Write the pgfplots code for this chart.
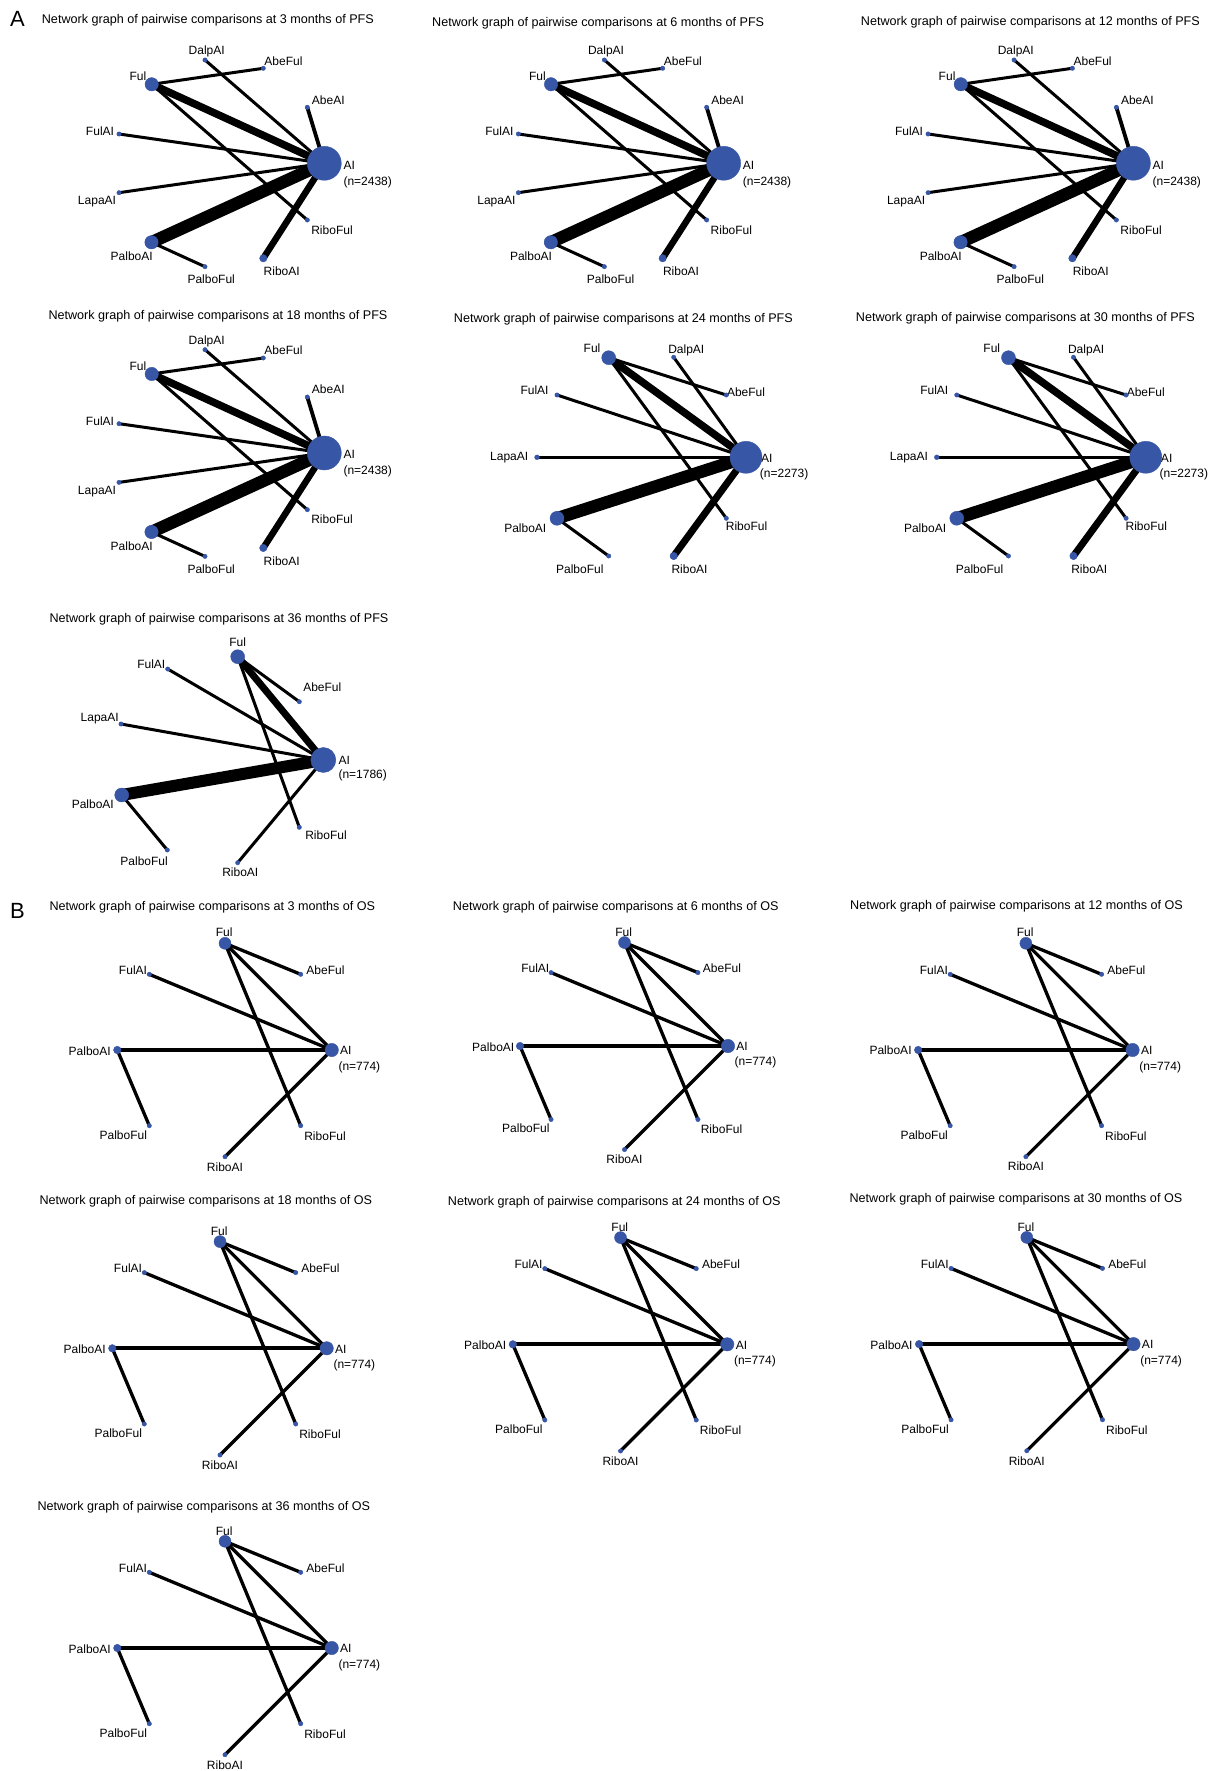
\documentclass[border=0pt]{standalone}
\usepackage{fontspec}
\setmainfont{Liberation Sans}
\usepackage{pgfplots}
\pgfplotsset{compat=1.18}
\definecolor{nodeblue}{RGB}{56,86,166}
\pgfplotsset{
  panel/.style={hide axis, scale only axis, width=1221pt, height=1771pt,
    y dir=reverse, clip=false, at={(0pt,0pt)}, anchor=south west},
}
\tikzset{lab/.style={font=\fontsize{12}{14}\selectfont, inner sep=0pt},
  ttl/.style={font=\fontsize{12.6}{15}\selectfont, inner sep=0pt, anchor=base west},
  big/.style={font=\fontsize{22}{26}\selectfont, inner sep=0pt, anchor=base west}}
% edge: from, to, width
\newcommand\Ed[3]{\addplot[black, line width=#3, line cap=round, no marks, forget plot] coordinates {(#1) (#2)};}
% node: position, radius
\newcommand\Nd[2]{\addplot[only marks, mark=*, mark size=#2, color=nodeblue, mark options={fill=nodeblue, draw=nodeblue}, forget plot] coordinates {(#1)};}
% label
\newcommand\Lb[3][center]{\node[lab, anchor=#1] at (axis cs:#2) {#3};}

% ---------- layout A : PFS 3, 6, 12, 18 months ----------
\newcommand\layoutA{%
 \Ed{151.7,84.3}{263.3,68.3}{3}
 \Ed{151.7,84.3}{324.3,163.3}{7.5}
 \Ed{151.7,84.3}{307.3,220}{3}
 \Ed{205,60}{324.3,163.3}{3}
 \Ed{307.3,107.3}{324.3,163.3}{3.8}
 \Ed{119,134}{324.3,163.3}{3}
 \Ed{119,192.7}{324.3,163.3}{3}
 \Ed{151.5,242.3}{324.3,163.3}{12.5}
 \Ed{151.5,242.3}{205,266.7}{3}
 \Ed{263.3,258.3}{324.3,163.3}{6.5}
 \Nd{151.7,84.3}{6.7}
 \Nd{205,60}{2.2}
 \Nd{263.3,68.3}{2.2}
 \Nd{307.3,107.3}{2.2}
 \Nd{119,134}{2.2}
 \Nd{324.3,163.3}{17}
 \Nd{119,192.7}{2.2}
 \Nd{151.5,242.3}{6.7}
 \Nd{205,266.7}{2.2}
 \Nd{263.3,258.3}{3.7}
 \Nd{307.3,220}{2.2}
 \Lb{138,76.7}{Ful}
 \Lb{206.7,51.7}{DalpAI}
 \Lb{283.5,61}{AbeFul}
 \Lb{328.3,100}{AbeAI}
 \Lb{100,131.7}{FulAI}
 \Lb[west]{343.3,165}{AI}
 \Lb[west]{343.3,182}{(n=2438)}
 \Lb{97,201.7}{LapaAI}
 \Lb{131.7,256.7}{PalboAI}
 \Lb{211.2,279.5}{PalboFul}
 \Lb{281.7,271.7}{RiboAI}
 \Lb{332,230}{RiboFul}
}
% ---------- layout B : PFS 24, 30 months ----------
\newcommand\layoutB{%
 \Ed{608.7,357.7}{726.3,395}{3}
 \Ed{608.7,357.7}{746,457.3}{7.5}
 \Ed{608.7,357.7}{726.3,518.3}{3}
 \Ed{673.7,357.3}{746,457.3}{3}
 \Ed{557,395}{746,457.3}{3}
 \Ed{537,457.3}{746,457.3}{3}
 \Ed{557,518.3}{746,457.3}{12.5}
 \Ed{557,518.3}{608.7,556}{3}
 \Ed{673.7,556}{746,457.3}{7}
 \Nd{608.7,357.7}{7}
 \Nd{673.7,357.3}{2.2}
 \Nd{557,395}{2.2}
 \Nd{726.3,395}{2.2}
 \Nd{537,457.3}{2.4}
 \Nd{746,457.3}{16}
 \Nd{557,518.3}{7}
 \Nd{726.3,518.3}{2.2}
 \Nd{608.7,556}{2.2}
 \Nd{673.7,556}{3.7}
 \Lb{592,348.3}{Ful}
 \Lb{686.3,350.7}{DalpAI}
 \Lb{534.5,390}{FulAI}
 \Lb{746,392.7}{AbeFul}
 \Lb{509.2,457.3}{LapaAI}
 \Lb[west]{761,458.3}{AI}
 \Lb[west]{759.7,474.5}{(n=2273)}
 \Lb{525.3,528.3}{PalboAI}
 \Lb{746.5,526}{RiboFul}
 \Lb{579.8,569}{PalboFul}
 \Lb{689.5,569}{RiboAI}
}
% ---------- layout C : PFS 36 months ----------
\newcommand\layoutC{%
 \Ed{237.7,656.7}{299.3,701.7}{3}
 \Ed{237.7,656.7}{323.3,760}{7}
 \Ed{237.7,656.7}{299.3,827.3}{3}
 \Ed{167.7,669}{323.3,760}{3}
 \Ed{121,724}{323.3,760}{3}
 \Ed{121.7,795}{323.3,760}{12}
 \Ed{121.7,795}{167.3,850}{3}
 \Ed{237.7,862.7}{323.3,760}{3}
 \Nd{237.7,656.7}{7}
 \Nd{167.7,669}{2.2}
 \Nd{299.3,701.7}{2.2}
 \Nd{121,724}{2.2}
 \Nd{323.3,760}{12.5}
 \Nd{121.7,795}{7}
 \Nd{299.3,827.3}{2.2}
 \Nd{167.3,850}{2.2}
 \Nd{237.7,862.7}{2.2}
 \Lb{237.6,642.2}{Ful}
 \Lb{151.3,664.2}{FulAI}
 \Lb{322.3,687.3}{AbeFul}
 \Lb{99.7,718.7}{LapaAI}
 \Lb[west]{338.3,760}{AI}
 \Lb[west]{338.3,775.8}{(n=1786)}
 \Lb{92.8,804.2}{PalboAI}
 \Lb{326,835.7}{RiboFul}
 \Lb{144.1,861.7}{PalboFul}
 \Lb{240.3,872.7}{RiboAI}
}
% ---------- layout D : OS, all time points ----------
\newcommand\layoutD{%
 \Ed{225,943.3}{300.7,974.3}{3.3}
 \Ed{225,943.3}{331.7,1050}{3.3}
 \Ed{225,943.3}{300.7,1125.7}{3.3}
 \Ed{149.3,974.3}{331.7,1050}{3.3}
 \Ed{117.3,1050}{331.7,1050}{4.2}
 \Ed{117.3,1050}{149.3,1125.7}{3.3}
 \Ed{225,1156.7}{331.7,1050}{3.3}
 \Nd{225,943.3}{6}
 \Nd{300.7,974.3}{2.2}
 \Nd{149.3,974.3}{2.2}
 \Nd{117.3,1050}{3.8}
 \Nd{331.7,1050}{6.7}
 \Nd{149.3,1125.7}{2.2}
 \Nd{300.7,1125.7}{2.2}
 \Nd{225,1156.7}{2.2}
 \Lb{224.2,932.7}{Ful}
 \Lb{325.5,970}{AbeFul}
 \Lb{133,970}{FulAI}
 \Lb{89.7,1050.7}{PalboAI}
 \Lb[west]{340,1050.7}{AI}
 \Lb[west]{338.3,1067}{(n=774)}
 \Lb{123.3,1135}{PalboFul}
 \Lb{325,1136}{RiboFul}
 \Lb{225,1166.7}{RiboAI}
}

\begin{document}
\begin{tikzpicture}
% base axis: titles, panel letters and the panels whose layout is given in place
\begin{axis}[panel, xmin=0, xmax=1221, ymin=0, ymax=1771]
 \path (rel axis cs:0,0) rectangle (rel axis cs:1,1);
 \node[big] at (axis cs:10,26.7) {A};
 \node[big] at (axis cs:10,918.3) {B};
 \node[ttl] at (axis cs:41.7,24) {Network graph of pairwise comparisons at 3 months of PFS};
 \node[ttl] at (axis cs:432,26.5) {Network graph of pairwise comparisons at 6 months of PFS};
 \node[ttl] at (axis cs:860.7,26) {Network graph of pairwise comparisons at 12 months of PFS};
 \node[ttl] at (axis cs:48.3,319.3) {Network graph of pairwise comparisons at 18 months of PFS};
 \node[ttl] at (axis cs:453.7,322.3) {Network graph of pairwise comparisons at 24 months of PFS};
 \node[ttl] at (axis cs:855.7,321) {Network graph of pairwise comparisons at 30 months of PFS};
 \node[ttl] at (axis cs:49.3,622.3) {Network graph of pairwise comparisons at 36 months of PFS};
 \node[ttl] at (axis cs:49.3,910.7) {Network graph of pairwise comparisons at 3 months of OS};
 \node[ttl] at (axis cs:452.7,910.7) {Network graph of pairwise comparisons at 6 months of OS};
 \node[ttl] at (axis cs:850,909.3) {Network graph of pairwise comparisons at 12 months of OS};
 \node[ttl] at (axis cs:39.3,1204) {Network graph of pairwise comparisons at 18 months of OS};
 \node[ttl] at (axis cs:447.7,1205.7) {Network graph of pairwise comparisons at 24 months of OS};
 \node[ttl] at (axis cs:849.4,1202) {Network graph of pairwise comparisons at 30 months of OS};
 \node[ttl] at (axis cs:37.3,1510) {Network graph of pairwise comparisons at 36 months of OS};
 \layoutA
 \layoutB
 \layoutC
 \layoutD
\end{axis}
% PFS 6 months
\begin{axis}[panel, xmin=-399.3, xmax=821.7, ymin=0, ymax=1771]
 \layoutA
\end{axis}
% PFS 12 months
\begin{axis}[panel, xmin=-809, xmax=412, ymin=0, ymax=1771]
 \layoutA
\end{axis}
% PFS 18 months
\begin{axis}[panel, xmin=0, xmax=1221, ymin=-289.7, ymax=1481.3]
 \layoutA
\end{axis}
% PFS 30 months
\begin{axis}[panel, xmin=-399.7, xmax=821.3, ymin=0, ymax=1771]
 \layoutB
\end{axis}
% OS 6 months
\begin{axis}[panel, xmin=-418.8, xmax=840.0, ymin=-28.4, ymax=1797.4]
 \layoutD
\end{axis}
% OS 12 months
\begin{axis}[panel, xmin=-800.8, xmax=420.2, ymin=0, ymax=1771]
 \layoutD
\end{axis}
% OS 18 months
\begin{axis}[panel, xmin=5, xmax=1226, ymin=-298.3, ymax=1472.7]
 \layoutD
\end{axis}
% OS 24 months
\begin{axis}[panel, xmin=-395.5, xmax=825.5, ymin=-294.3, ymax=1476.7]
 \layoutD
\end{axis}
% OS 30 months
\begin{axis}[panel, xmin=-801.7, xmax=419.3, ymin=-294.1, ymax=1476.9]
 \layoutD
\end{axis}
% OS 36 months
\begin{axis}[panel, xmin=0, xmax=1221, ymin=-598, ymax=1173]
 \layoutD
\end{axis}
\end{tikzpicture}
\end{document}
